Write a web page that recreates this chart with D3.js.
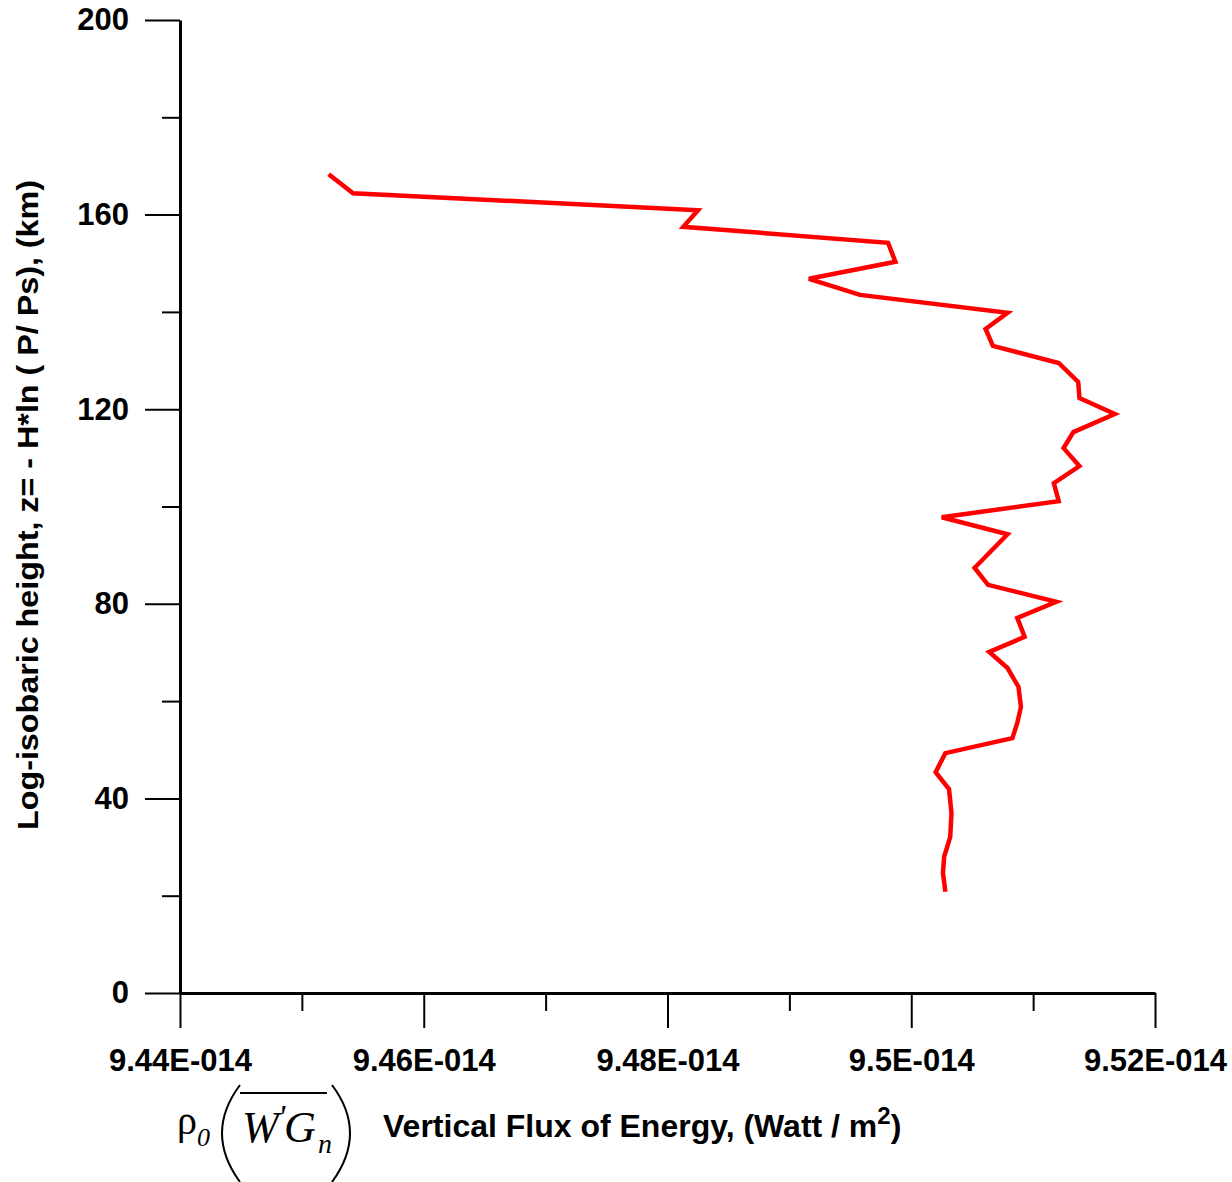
<!DOCTYPE html>
<html>
<head>
<meta charset="utf-8">
<script src="https://cdn.jsdelivr.net/npm/d3@7"></script>
<style>
  body { margin: 0; background: #fff; }
  svg { display: block; }
</style>
</head>
<body>
<svg></svg>
<script>

  // flux values, in Watt/m^2
  var flux = [9.4522, 9.4542, 9.4825, 9.4813, 9.4981, 9.4987, 9.4916, 9.4958,
    9.5079, 9.5061, 9.5067, 9.5121, 9.5137, 9.5138, 9.5167, 9.5133, 9.5125,
    9.5138, 9.5117, 9.5121, 9.5025, 9.5079, 9.5052, 9.5063, 9.5119, 9.5087,
    9.5093, 9.5064, 9.5079, 9.5088, 9.5090, 9.5087, 9.5083, 9.5028, 9.5020,
    9.5031, 9.5033, 9.5032, 9.5027, 9.5026, 9.5028].map(function(v) { return v * 1e-14; });

  // log-isobaric height, km
  var height = [168.3, 164.4, 160.9, 157.5, 154.2, 150.3, 146.8, 143.5,
    139.8, 136.5, 133.0, 129.5, 125.6, 122.3, 119.0, 115.3, 112.0,
    108.3, 104.8, 101.1, 97.8, 94.3, 87.4, 83.9, 80.4, 77.1,
    73.2, 70.1, 66.8, 62.9, 58.8, 55.5, 52.4, 49.3, 45.4,
    41.9, 37.0, 32.1, 28.0, 24.7, 20.8];

  var xMajor = [9.44e-14, 9.46e-14, 9.48e-14, 9.5e-14, 9.52e-14];
  var xMinor = [9.45e-14, 9.47e-14, 9.49e-14, 9.51e-14];
  var xLabels = ["9.44E-014", "9.46E-014", "9.48E-014", "9.5E-014", "9.52E-014"];
  var yMajor = [0, 40, 80, 120, 160, 200];
  var yMinor = [20, 60, 100, 140, 180];

  var sans = "'Liberation Sans', Arial, sans-serif";
  var serif = "'Liberation Serif', 'Times New Roman', serif";

  var svg = d3.select("svg").attr("width", 1232).attr("height", 1182);

  var x = d3.scaleLinear().domain([9.44e-14, 9.52e-14]).range([180, 1155]);
  var y = d3.scaleLinear().domain([0, 200]).range([993, 20]);

  // y axis, major and minor ticks
  svg.append("g").attr("transform", "translate(180,0)")
    .call(d3.axisLeft(y).tickValues(yMajor).tickSize(35).tickPadding(16).tickSizeOuter(0));
  svg.append("g").attr("transform", "translate(180,0)")
    .call(d3.axisLeft(y).tickValues(yMinor).tickSize(18).tickFormat(""))
    .select(".domain").remove();

  // x axis
  var xAx = svg.append("g").attr("transform", "translate(0,993)")
    .call(d3.axisBottom(x).tickValues(xMajor).tickSize(35).tickPadding(14).tickSizeOuter(0)
      .tickFormat(function(d, i) { return xLabels[i]; }));
  svg.append("g").attr("transform", "translate(0,993)")
    .call(d3.axisBottom(x).tickValues(xMinor).tickSize(18).tickFormat(""))
    .select(".domain").remove();

  svg.selectAll(".domain").attr("stroke", "#000").attr("stroke-width", 3);
  svg.selectAll(".tick line").attr("stroke", "#000").attr("stroke-width", 2);
  svg.selectAll(".tick text")
    .attr("fill", "#000")
    .attr("font-size", 31)
    .attr("font-weight", "bold")
    .attr("font-family", sans);
  xAx.selectAll(".tick text").attr("dy", "0.95em");

  // the profile
  var line = d3.line()
    .x(function(d) { return x(d[0]); })
    .y(function(d) { return y(d[1]); });

  svg.append("path")
    .datum(d3.zip(flux, height))
    .attr("d", line)
    .attr("fill", "none")
    .attr("stroke", "#ff0000")
    .attr("stroke-width", 4.5)
    .attr("stroke-linejoin", "miter");

  // axis titles
  svg.append("text")
    .attr("transform", "translate(38,505) rotate(-90)")
    .attr("text-anchor", "middle")
    .attr("font-family", sans)
    .attr("font-size", 30)
    .attr("font-weight", "bold")
    .attr("textLength", 650)
    .attr("lengthAdjust", "spacingAndGlyphs")
    .text("Log-isobaric height, z= - H*ln ( P/ Ps), (km)");

  var xt = svg.append("text")
    .attr("x", 383).attr("y", 1137)
    .attr("font-family", sans)
    .attr("font-size", 32)
    .attr("font-weight", "bold");
  xt.append("tspan").text("Vertical Flux of Energy, (Watt / m");
  xt.append("tspan").attr("dy", -13).attr("font-size", 24).text("2");
  xt.append("tspan").attr("dy", 13).text(")");

  // formula  rho_0 ( W' G_n overbar )
  var f = svg.append("g").attr("font-family", serif);
  f.append("text").attr("x", 177).attr("y", 1134).attr("font-size", 40).text("ρ");
  f.append("text").attr("x", 197).attr("y", 1146).attr("font-size", 26).attr("font-style", "italic").text("0");
  f.append("path").attr("d", "M240,1085 Q204,1133 240,1182")
    .attr("fill", "none").attr("stroke", "#000").attr("stroke-width", 2);
  f.append("path").attr("d", "M332,1085 Q368,1133 332,1182")
    .attr("fill", "none").attr("stroke", "#000").attr("stroke-width", 2);
  f.append("text").attr("x", 242).attr("y", 1142).attr("font-size", 44).attr("font-style", "italic").text("W");
  f.append("text").attr("x", 278).attr("y", 1128).attr("font-size", 34).attr("font-style", "italic").text("'");
  f.append("text").attr("x", 284).attr("y", 1142).attr("font-size", 44).attr("font-style", "italic").text("G");
  f.append("text").attr("x", 318).attr("y", 1153).attr("font-size", 28).attr("font-style", "italic").text("n");
  f.append("line").attr("x1", 240).attr("x2", 327).attr("y1", 1093).attr("y2", 1093)
    .attr("stroke", "#000").attr("stroke-width", 2);

</script>
</body>
</html>
